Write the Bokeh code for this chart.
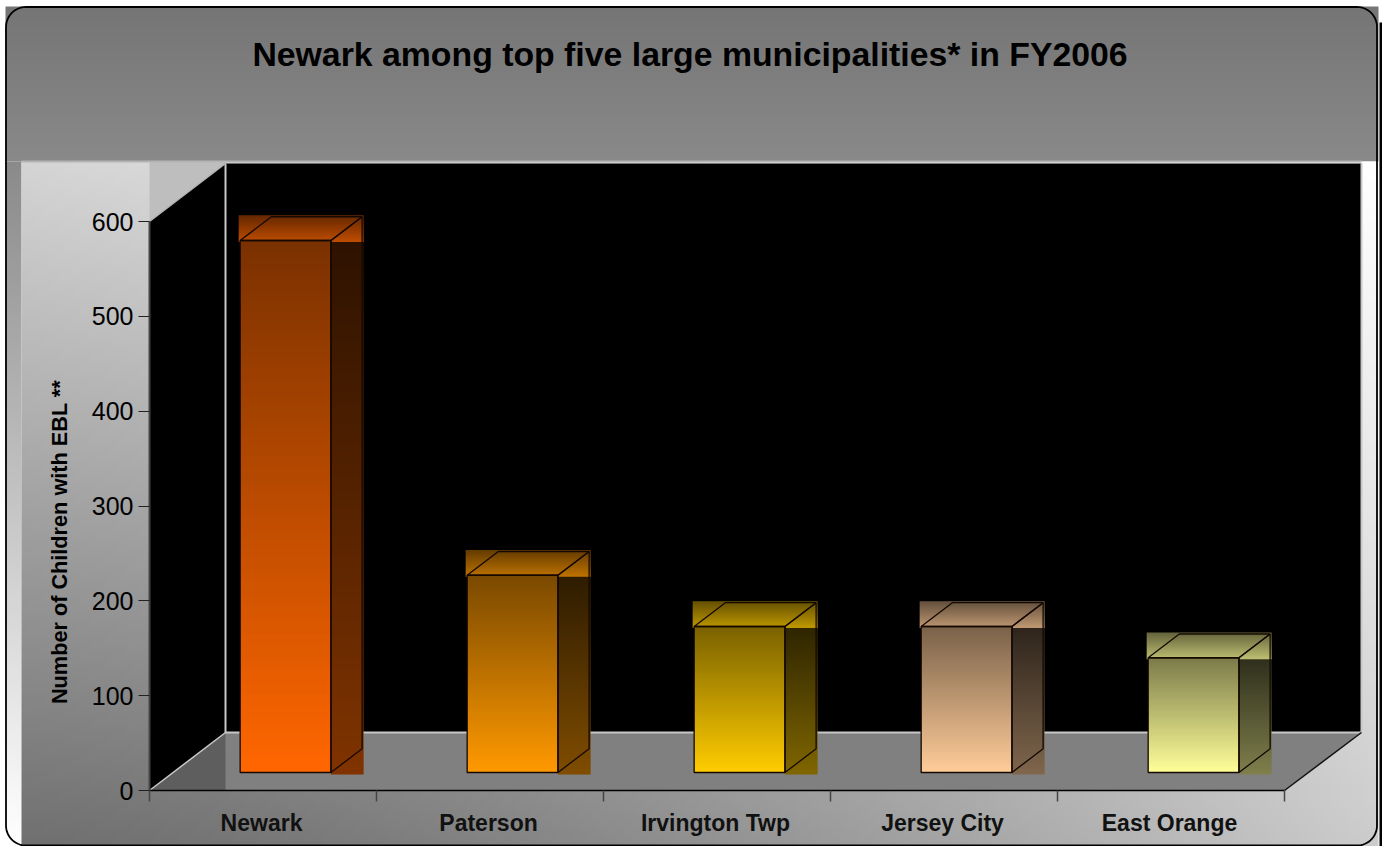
import numpy as np
from bokeh.core.properties import value
from bokeh.embed import file_html
from bokeh.models import FixedTicker, LinearAxis, Range1d
from bokeh.plotting import figure
from bokeh.resources import INLINE

title = "Newark among top five large municipalities* in FY2006"
y_label = "Number of Children with EBL **"
categories = ["Newark", "Paterson", "Irvington Twp", "Jersey City", "East Orange"]
children = [561, 208, 154, 154, 121]
colors = ["#FF6600", "#FF9900", "#FFCC00", "#FFCC99", "#FFFF99"]
y_ticks = [0, 100, 200, 300, 400, 500, 600]

W, H = 1382, 846
X0, CAT_PX = 149.0, 227.0
Y0, VAL_PX = 790.0, 569.0 / 600.0
DEPTH_X, DEPTH_Y = 76.0 / CAT_PX, 58.0 / VAL_PX
FONT = "Liberation Sans"


def fx(px):
    return (np.asarray(px, dtype=float) - X0) / CAT_PX


def fy(py):
    return (Y0 - np.asarray(py, dtype=float)) / VAL_PX


def proj(cat, val, depth):
    return cat + depth * DEPTH_X, val + depth * DEPTH_Y


def rgba(r, g, b):
    r, g, b = [np.clip(np.round(c), 0, 255).astype(np.uint32) for c in (r, g, b)]
    return r | (g << 8) | (b << 16) | (np.uint32(255) << 24)


def gray(a):
    return rgba(a, a, a)


p = figure(
    width=W, height=H, output_backend="svg", toolbar_location=None,
    x_range=Range1d(float(fx(0)), float(fx(W))), y_range=Range1d(float(fy(H)), float(fy(0))),
    x_axis_type=None, y_axis_type=None, min_border=0,
    outline_line_color=None, background_fill_color="white", border_fill_color="white",
)


def put_img(arr, x1, y1, x2, y2):
    p.image_rgba(image=[arr], x=float(fx(x1)), y=float(fy(y2)),
                 dw=float(fx(x2) - fx(x1)), dh=float(fy(y1) - fy(y2)))


def poly(points, fill=None, line=None, width=1.0):
    xs = fx([q[0] for q in points])
    ys = fy([q[1] for q in points])
    p.patch(xs, ys, fill_color=fill, fill_alpha=0 if fill is None else 1,
            line_color=line, line_width=width)


def seg(points, color, width=1.0):
    p.line(fx([q[0] for q in points]), fy([q[1] for q in points]),
           line_color=color, line_width=width)


# --- page background gradients (row 0 of an image is its bottom row) ---
ramp = np.linspace(0x89, 0x75, 64).reshape(64, 1).repeat(2, axis=1)
put_img(gray(ramp), 5, 6, 1378, 161)
ramp = np.linspace(0xFF, 0x8A, 128).reshape(128, 1).repeat(2, axis=1)
put_img(gray(ramp), 5, 161, 21, 846)
u, v = np.meshgrid(np.linspace(0, 1, 256), np.linspace(1, 0, 128))
corner = (1 - v) * ((1 - u) * 0xD4 + u * 0xFF) + v * (0x70 + (0xCC - 0x70) * u ** 1.5)
put_img(gray(corner), 21, 161, 1378, 846)

# --- 3-D room ---
poly([(149, 161), (225, 161), (225, 163), (149, 221)], fill="#BEBEBE")
poly([(225, 163), (1361, 163), (1361, 732), (225, 732)], fill="black")
poly([(149, 221), (225, 163), (225, 732), (149, 790)], fill="black")
poly([(225, 732), (1361, 732), (1284, 790), (225, 790)], fill="#808080")
poly([(149, 790), (225, 732), (225, 790)], fill="#5E5E5E")
seg([(21, 161), (1361, 161)], "#B4B4B4", 2)
seg([(225, 163), (225, 732), (1361, 732), (1361, 163)], "#C8C8C8", 2)
seg([(149, 790), (225, 732)], "#C8C8C8", 1.5)
seg([(149, 221), (225, 163)], "#B4B4B4", 1.5)
seg([(1284, 790), (1361, 732)], "#111111", 1.5)

# --- bars: a gradient in each face's bounding box, then its outline ---
DEPTH_FRONT, DEPTH_BACK = 0.31, 0.72
BAR_HALF = 0.2
BAR_SHIFT = -1.0 / CAT_PX


def face(hexcolor, f_bottom, f_top, x1, val1, x2, val2):
    c = np.array([int(hexcolor[i:i + 2], 16) for i in (1, 3, 5)], dtype=float)
    f = np.linspace(f_bottom, f_top, 96).reshape(96, 1).repeat(2, axis=1)
    arr = rgba(c[0] * f, c[1] * f, c[2] * f)
    p.image_rgba(image=[arr], x=float(x1), y=float(val1), dw=float(x2 - x1), dh=float(val2 - val1))


for i, (val, col) in enumerate(zip(children, colors)):
    c = i + 0.5 + BAR_SHIFT
    lx, fb = proj(c - BAR_HALF, 0, DEPTH_FRONT)
    rx, ft = proj(c + BAR_HALF, val, DEPTH_FRONT)
    ft = fb + val
    bx, bb = proj(c + BAR_HALF, 0, DEPTH_BACK)
    lbx, bt = proj(c - BAR_HALF, val, DEPTH_BACK)
    rbx = bx
    pad = 1.5 / CAT_PX
    face(col, 0.50, 0.18, rx, fb - 2 / VAL_PX, rbx + pad, ft)
    face(col, 0.75, 0.38, lx - pad, ft - 1.5 / VAL_PX, rbx + pad, bt + 1.5 / VAL_PX)
    face(col, 1.00, 0.48, lx, fb, rx, ft)
    edge = dict(line_color="#140800", line_width=1.3, fill_alpha=0)
    p.patch([lx, rx, rx, lx], [fb, fb, ft, ft], **edge)
    p.patch([lx, lbx, rbx, rx], [ft, bt, bt, ft], **edge)
    p.patch([rx, rbx, rbx, rx], [fb, bb, bt, ft], **edge)

# --- frame of the picture ---
R = 20.0
L, T, RT, B = 5.5, 6.5, 1376.5, 845.0
theta = np.linspace(0, np.pi / 2, 16)
path = []
path += [(L + R - R * np.cos(t), T + R - R * np.sin(t)) for t in theta]
path += [(RT - R + R * np.sin(t), T + R - R * np.cos(t)) for t in theta]
path += [(RT - R + R * np.cos(t), B - R + R * np.sin(t)) for t in theta]
path += [(L + R - R * np.sin(t), B - R + R * np.cos(t)) for t in theta]
path.append(path[0])
seg(path, "black", 1.8)
seg([(1380.5, 22), (1380.5, 846)], "black", 3)

# --- axes ---
yax = LinearAxis(fixed_location=0, ticker=FixedTicker(ticks=y_ticks), bounds=(0, 600))
yax.axis_line_color = "#444444"
yax.axis_line_width = 2
yax.major_tick_line_color = "#222222"
yax.major_tick_in = 0
yax.major_tick_out = 11
yax.minor_tick_line_color = None
yax.major_label_standoff = 5
yax.major_label_text_font = FONT
yax.major_label_text_font_size = "25px"
yax.major_label_text_color = "black"
p.add_layout(yax, "left")

xax = LinearAxis(fixed_location=0, ticker=FixedTicker(ticks=list(range(len(categories) + 1))),
                 bounds=(0, len(categories)))
xax.axis_line_color = "black"
xax.axis_line_width = 1.5
xax.major_tick_line_color = "#444444"
xax.major_tick_line_width = 1.5
xax.major_tick_in = 0
xax.major_tick_out = 11
xax.minor_tick_line_color = None
xax.major_label_text_font_size = "0px"
xax.major_label_overrides = {t: "" for t in range(len(categories) + 1)}
p.add_layout(xax, "below")

label_ticks = [i + 0.4935 for i in range(len(categories))]
lab = LinearAxis(fixed_location=0, ticker=FixedTicker(ticks=label_ticks))
lab.axis_line_color = None
lab.major_tick_line_color = None
lab.minor_tick_line_color = None
lab.major_tick_out = 0
lab.major_tick_in = 0
lab.major_label_standoff = 19
lab.major_label_overrides = dict(zip(label_ticks, categories))
lab.major_label_text_font = FONT
lab.major_label_text_font_style = "bold"
lab.major_label_text_font_size = "23px"
lab.major_label_text_color = "#111111"
p.add_layout(lab, "below")

# --- titles ---
p.text([float(fx(689.5))], [float(fy(53.5))], text=[title], text_font=value(FONT), text_font_style="bold",
       text_font_size="33.8px", text_color="black", text_align="center", text_baseline="middle")
p.text([float(fx(59))], [float(fy(541.5))], text=[y_label], text_font=value(FONT), text_font_style="bold",
       text_font_size="21.7px", text_color="black", text_align="center", text_baseline="middle",
       angle=np.pi / 2)

open("out.html", "w").write(file_html(p, INLINE))
